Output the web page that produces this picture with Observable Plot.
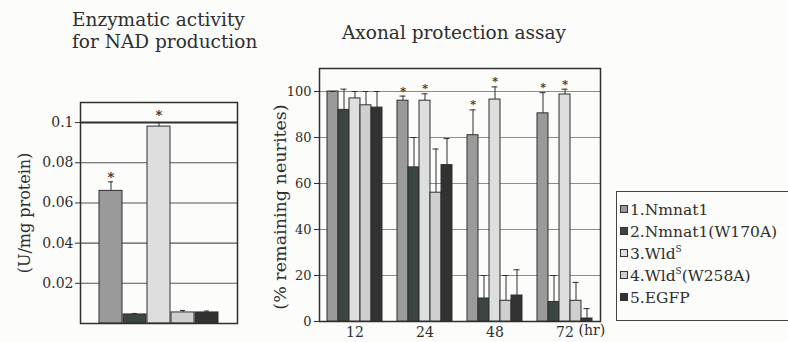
<!DOCTYPE html>
<html>
<head>
<meta charset="utf-8">
<script src="https://cdn.jsdelivr.net/npm/d3@7"></script>
<script src="https://cdn.jsdelivr.net/npm/@observablehq/plot@0.6"></script>
<style>
  html, body { margin: 0; padding: 0; }
  body { width: 788px; height: 342px; overflow: hidden; position: relative; background: #fcfcfa; font-family: "DejaVu Serif", serif; color: #2e2e2e; }
  .abs { position: absolute; }
  .title { font-size: 18.5px; line-height: 22px; white-space: nowrap; }
  #legend { border: 1.5px solid #444; box-sizing: border-box; font-size: 15.5px; }
  .item { position: absolute; left: 3px; white-space: nowrap; line-height: 18px; }
  .sw { display: inline-block; width: 6px; height: 6px; border: 1.2px solid #333; margin-right: 2px; vertical-align: 2px; }
  sup { font-size: 9px; vertical-align: 7px; line-height: 0; }
</style>
</head>
<body>
<div class="abs title" style="left:72px;top:9px;">Enzymatic activity<br>for NAD production</div>
<div class="abs title" style="left:342px;top:22px;">Axonal protection assay</div>
<div id="left" class="abs" style="left:0;top:90px;"></div>
<div id="rightBase" class="abs" style="left:250px;top:55px;"></div>
<div id="rightBars" class="abs" style="left:250px;top:55px;"></div>
<div id="legend" class="abs" style="left:616px;top:191px;width:190px;height:130px;"></div>
<script>
// ---------- data ----------
const seriesIds = [1, 2, 3, 4, 5];
const seriesNames = ["1.Nmnat1", "2.Nmnat1(W170A)", "3.Wld", "4.Wld", "5.EGFP"];
const seriesSup = ["", "", "S", "S", ""];
const seriesSuffix = ["", "", "", "(W258A)", ""];
const seriesColors = ["#9a9a9a", "#3c4640", "#dedede", "#cfcfcf", "#313231"];

// Enzymatic activity (U/mg protein)
const nadValues = [0.066, 0.0045, 0.098, 0.0055, 0.0055];
const nadErrTop = [0.0705, 0.005, 0.1, 0.0065, 0.0062];
const nadStar = [true, false, false, false, false];
const nadTicks = [0.02, 0.04, 0.06, 0.08, 0.1];
const nadTickLabels = ["0.02", "0.04", "0.06", "0.08", "0.1"];
const nadBracket = [0.1];
const nadLabel = "(U/mg protein)";

// Axonal protection assay (% remaining neurites)
const hourLabels = ["12", "24", "48", "72"];
const nmnat1 = [100, 96, 81, 90.5];
const nmnat1Err = [100, 98, 92, 99.5];
const nmnat1W170A = [92, 67, 10, 8.5];
const nmnat1W170AErr = [101, 80, 20, 20];
const wlds = [97, 96, 96.5, 98.7];
const wldsErr = [100, 99, 102, 101];
const wldsW258A = [94, 56, 9, 9];
const wldsW258AErr = [100, 75, 20, 17];
const egfp = [93, 68, 11.3, 1.3];
const egfpErr = [100, 79.5, 22.5, 5.6];
const starSeries = [1, 3];
const starHours = ["24", "48", "72"];
const assayTicks = [0, 20, 40, 60, 80, 100];
const assayGrid = [20, 40, 60, 80, 100];
const assayLabel = "(% remaining neurites)";
const hourUnit = "(hr)";

// ---------- tables ----------
const nadRows = seriesIds.map((id, i) => ({id, value: nadValues[i], err: nadErrTop[i], star: nadStar[i]}));
const assayValues = [nmnat1, nmnat1W170A, wlds, wldsW258A, egfp];
const assayErrs = [nmnat1Err, nmnat1W170AErr, wldsErr, wldsW258AErr, egfpErr];
const assayRows = [];
hourLabels.forEach((hour, h) => {
  seriesIds.forEach((id, i) => {
    assayRows.push({hour, id, value: assayValues[i][h], err: assayErrs[i][h],
      star: starSeries.includes(id) && starHours.includes(hour)});
  });
});

const baseStyle = {background: "transparent", fontFamily: "DejaVu Serif, serif", color: "#2e2e2e", overflow: "visible"};
const ink = "#2f2f2f";

// ---------- left chart ----------
const left = Plot.plot({
  width: 250, height: 252,
  marginTop: 12, marginBottom: 19, marginLeft: 80, marginRight: 13,
  style: {...baseStyle, fontSize: "14px"},
  x: {domain: seriesIds, paddingInner: 0.04, paddingOuter: 0.79, axis: null},
  y: {domain: [0, 0.11]},
  color: {domain: seriesIds, range: seriesColors},
  marks: [
    Plot.ruleY(nadTicks.slice(0, 4), {stroke: "#555", strokeWidth: 1.1}),
    Plot.ruleY(nadBracket, {stroke: ink, strokeWidth: 2}),
    Plot.axisY(nadTicks, {tickSize: 5, tickPadding: 2, label: null, fontSize: 14,
      tickFormat: d => nadTickLabels[nadTicks.indexOf(d)]}),
    Plot.barY(nadRows, {x: "id", y: "value", fill: "id", stroke: ink, strokeWidth: 1}),
    Plot.ruleX(nadRows, {x: "id", y1: "value", y2: "err", stroke: ink, strokeWidth: 1}),
    Plot.tickY(nadRows, {x: "id", y: "err", insetLeft: 9, insetRight: 9, stroke: ink, strokeWidth: 1}),
    Plot.text(nadRows, {filter: d => d.star, x: "id", y: "err", text: () => "*", dy: -4, fontSize: 13, fontWeight: "bold"}),
    Plot.text(["*"], {frameAnchor: "top", dy: 8, fontSize: 13, fontWeight: "bold"}),
    Plot.text([nadLabel], {frameAnchor: "left", textAnchor: "middle", rotate: -90, dx: -56, fontSize: 16}),
    Plot.frame({stroke: ink, strokeWidth: 1.5})
  ]
});
document.getElementById("left").append(left);

// ---------- right chart: frame, grid, y axis ----------
const rightBase = Plot.plot({
  width: 360, height: 287,
  marginTop: 13, marginBottom: 21, marginLeft: 69, marginRight: 10,
  style: {...baseStyle, fontSize: "13px"},
  y: {domain: [0, 110]},
  marks: [
    Plot.ruleY(assayGrid, {stroke: "#8c8c8c", strokeWidth: 1}),
    Plot.axisY(assayTicks, {tickSize: 5, tickPadding: 3, label: null, fontSize: 13}),
    Plot.frame({stroke: ink, strokeWidth: 1.5}),
    Plot.text([assayLabel], {frameAnchor: "left", textAnchor: "middle", rotate: -90, dx: -39, dy: 12, fontSize: 17.5}),
    Plot.text([hourUnit], {frameAnchor: "bottom-right", textAnchor: "start", dx: -22, dy: 13, fontSize: 14})
  ]
});
document.getElementById("rightBase").append(rightBase);

// ---------- right chart: bars ----------
const rightBars = Plot.plot({
  width: 360, height: 287,
  marginTop: 13, marginBottom: 21, marginLeft: 69, marginRight: 10,
  style: {...baseStyle, fontSize: "14px"},
  facet: {data: assayRows, x: "hour"},
  fx: {domain: hourLabels, paddingInner: 0.22, paddingOuter: 0.1, axis: "bottom", label: null, tickSize: 0, tickPadding: 6},
  x: {domain: seriesIds, padding: 0, axis: null},
  y: {domain: [0, 110], axis: null},
  color: {domain: seriesIds, range: seriesColors},
  marks: [
    Plot.barY(assayRows, {x: "id", y: "value", fill: "id", stroke: ink, strokeWidth: 1}),
    Plot.ruleX(assayRows, {x: "id", y1: "value", y2: "err", stroke: ink, strokeWidth: 1}),
    Plot.tickY(assayRows, {x: "id", y: "err", insetLeft: 2.5, insetRight: 2.5, stroke: ink, strokeWidth: 1}),
    Plot.text(assayRows, {filter: d => d.star, x: "id", y: "err", text: () => "*", dy: -5, fontSize: 11, fontWeight: "bold"})
  ]
});
document.getElementById("rightBars").append(rightBars);

// ---------- legend ----------
const legend = document.getElementById("legend");
seriesIds.forEach((id, i) => {
  const item = document.createElement("div");
  item.className = "item";
  item.style.top = (9 + i * 22) + "px";
  const sw = document.createElement("span");
  sw.className = "sw";
  sw.style.background = seriesColors[i];
  item.append(sw);
  item.append(document.createTextNode(seriesNames[i]));
  if (seriesSup[i]) {
    const s = document.createElement("sup");
    s.textContent = seriesSup[i];
    item.append(s);
  }
  if (seriesSuffix[i]) item.append(document.createTextNode(seriesSuffix[i]));
  legend.append(item);
});
</script>
</body>
</html>
